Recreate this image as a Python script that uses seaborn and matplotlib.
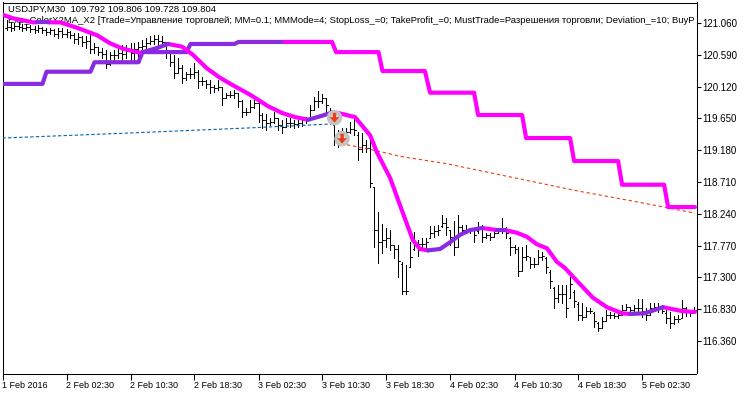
import pandas as pd
import seaborn as sns
import matplotlib.pyplot as plt
from matplotlib.path import Path

# Bars 1..173 (M30), prices
highs = [121.10, 121.07, 121.06, 121.07, 121.05, 121.05, 121.03, 121.02, 121.03, 121.00,
         120.99, 120.99, 120.97, 120.99, 120.99, 120.97, 120.94, 120.91, 120.91, 120.87,
         120.87, 120.91, 120.76, 120.71, 120.69, 120.66, 120.63, 120.66, 120.71, 120.73,
         120.73, 120.76, 120.76, 120.78, 120.81, 120.84, 120.87, 120.88, 120.88, 120.87,
         120.78, 120.62, 120.59, 120.54, 120.44, 120.34, 120.39, 120.47, 120.37, 120.26,
         120.22, 120.22, 120.14, 120.22, 120.11, 120.03, 120.05, 120.07, 119.97, 119.92,
         119.80, 119.92, 119.95, 119.85, 119.73, 119.72, 119.66, 119.74, 119.66, 119.63,
         119.66, 119.66, 119.63, 119.63, 119.67, 119.67, 119.85, 119.97, 120.05, 120.01,
         119.95, 119.80, 119.58, 119.48, 119.51, 119.51, 119.60, 119.67, 119.45, 119.43,
         119.33, 119.43, 118.64, 118.27, 118.09, 118.03, 118.00, 117.78, 117.78, 117.53,
         117.48, 117.82, 117.97, 117.85, 117.88, 117.88, 118.06, 118.06, 118.07, 118.22,
         118.18, 118.00, 118.13, 118.22, 118.07, 118.07, 118.03, 118.03, 118.12, 118.07,
         117.96, 117.96, 118.03, 118.03, 118.18, 118.04, 117.90, 117.78, 117.75, 117.75,
         117.78, 117.60, 117.59, 117.70, 117.67, 117.60, 117.41, 117.16, 117.19, 117.19,
         117.19, 117.31, 117.11, 116.94, 116.92, 116.86, 116.85, 116.79, 116.64, 116.71,
         116.82, 116.79, 116.77, 116.79, 116.89, 116.91, 116.86, 116.89, 116.98, 116.98,
         116.85, 116.92, 116.92, 116.92, 116.85, 116.82, 116.79, 116.73, 116.74, 116.97,
         116.86, 116.82, 116.86]
lows = [120.96, 120.94, 120.96, 120.97, 120.94, 120.96, 120.93, 120.91, 120.93, 120.91,
        120.88, 120.90, 120.87, 120.84, 120.85, 120.85, 120.84, 120.76, 120.75, 120.72,
        120.69, 120.62, 120.62, 120.59, 120.54, 120.39, 120.44, 120.51, 120.54, 120.51,
        120.54, 120.51, 120.51, 120.56, 120.62, 120.69, 120.75, 120.75, 120.73, 120.71,
        120.54, 120.42, 120.25, 120.34, 120.17, 120.22, 120.25, 120.25, 120.10, 120.14,
        120.10, 120.03, 120.04, 120.07, 119.85, 119.95, 119.97, 119.95, 119.82, 119.67,
        119.70, 119.76, 119.80, 119.60, 119.51, 119.48, 119.55, 119.58, 119.48, 119.43,
        119.52, 119.52, 119.51, 119.52, 119.54, 119.58, 119.66, 119.80, 119.82, 119.88,
        119.74, 119.67, 119.26, 119.23, 119.33, 119.40, 119.43, 119.40, 119.04, 119.15,
        119.15, 118.64, 117.75, 117.51, 117.66, 117.75, 117.70, 117.59, 117.31, 117.05,
        117.05, 117.48, 117.70, 117.62, 117.73, 117.75, 117.88, 117.90, 117.93, 118.04,
        117.93, 117.78, 117.63, 117.97, 117.93, 117.96, 117.96, 117.82, 117.96, 117.82,
        117.88, 117.85, 117.90, 117.97, 117.96, 117.88, 117.63, 117.66, 117.32, 117.53,
        117.56, 117.44, 117.45, 117.51, 117.56, 117.36, 117.14, 116.85, 116.94, 116.92,
        116.71, 117.11, 116.86, 116.67, 116.67, 116.74, 116.77, 116.57, 116.51, 116.57,
        116.67, 116.70, 116.70, 116.70, 116.74, 116.82, 116.77, 116.79, 116.77, 116.71,
        116.67, 116.77, 116.82, 116.79, 116.77, 116.63, 116.55, 116.61, 116.64, 116.77,
        116.73, 116.73, 116.77]
closes = [121.00, 120.98, 121.02, 121.00, 120.98, 121.00, 120.97, 120.95, 120.98, 120.95,
          120.92, 120.95, 120.90, 120.94, 120.90, 120.92, 120.88, 120.82, 120.85, 120.78,
          120.80, 120.68, 120.70, 120.63, 120.60, 120.46, 120.58, 120.58, 120.62, 120.60,
          120.65, 120.62, 120.68, 120.70, 120.72, 120.76, 120.80, 120.82, 120.80, 120.78,
          120.62, 120.48, 120.32, 120.40, 120.24, 120.30, 120.30, 120.33, 120.20, 120.20,
          120.16, 120.12, 120.10, 120.12, 119.95, 120.00, 120.00, 120.02, 119.90, 119.75,
          119.75, 119.82, 119.88, 119.70, 119.62, 119.58, 119.60, 119.65, 119.55, 119.52,
          119.58, 119.58, 119.56, 119.58, 119.62, 119.64, 119.78, 119.90, 119.90, 119.95,
          119.85, 119.72, 119.38, 119.32, 119.42, 119.45, 119.50, 119.48, 119.20, 119.25,
          119.22, 118.70, 118.00, 117.82, 117.85, 117.88, 117.78, 117.72, 117.55, 117.10,
          117.10, 117.60, 117.80, 117.80, 117.80, 117.82, 117.95, 117.98, 118.00, 118.10,
          118.05, 117.90, 117.75, 118.05, 118.00, 118.00, 118.00, 117.92, 118.03, 117.90,
          117.92, 117.90, 117.95, 118.00, 118.00, 117.95, 117.75, 117.72, 117.40, 117.60,
          117.62, 117.50, 117.50, 117.60, 117.62, 117.45, 117.25, 117.00, 117.05, 117.05,
          116.85, 117.20, 116.95, 116.75, 116.72, 116.80, 116.80, 116.65, 116.55, 116.65,
          116.75, 116.75, 116.73, 116.75, 116.82, 116.86, 116.82, 116.85, 116.85, 116.80,
          116.75, 116.85, 116.87, 116.85, 116.80, 116.70, 116.62, 116.68, 116.68, 116.85,
          116.80, 116.78, 116.82]
opens = [120.98, 121.00, 120.98, 121.02, 121.00, 120.98, 121.00, 120.97, 120.95, 120.98,
         120.95, 120.92, 120.95, 120.90, 120.94, 120.90, 120.92, 120.88, 120.82, 120.85,
         120.78, 120.80, 120.68, 120.70, 120.63, 120.60, 120.46, 120.58, 120.58, 120.62,
         120.60, 120.65, 120.62, 120.68, 120.70, 120.72, 120.76, 120.80, 120.82, 120.80,
         120.78, 120.62, 120.48, 120.32, 120.40, 120.24, 120.30, 120.30, 120.33, 120.20,
         120.20, 120.16, 120.12, 120.10, 120.12, 119.95, 120.00, 120.00, 120.02, 119.90,
         119.75, 119.75, 119.82, 119.88, 119.70, 119.62, 119.58, 119.60, 119.65, 119.55,
         119.52, 119.58, 119.58, 119.56, 119.58, 119.62, 119.64, 119.78, 119.90, 119.90,
         119.95, 119.72, 119.55, 119.38, 119.32, 119.42, 119.45, 119.50, 119.40, 119.20,
         119.25, 119.22, 118.64, 118.00, 117.82, 117.85, 117.88, 117.78, 117.72, 117.50,
         117.10, 117.45, 117.72, 117.80, 117.80, 117.80, 117.88, 117.95, 117.98, 118.06,
         118.10, 118.00, 117.90, 117.75, 118.05, 118.00, 118.00, 118.00, 117.98, 118.03,
         117.90, 117.92, 117.90, 117.95, 118.00, 118.00, 117.88, 117.75, 117.72, 117.40,
         117.60, 117.60, 117.50, 117.50, 117.60, 117.58, 117.38, 117.14, 117.00, 117.05,
         117.05, 117.00, 117.08, 116.90, 116.75, 116.72, 116.80, 116.78, 116.62, 116.55,
         116.65, 116.75, 116.75, 116.73, 116.75, 116.82, 116.86, 116.82, 116.85, 116.85,
         116.80, 116.75, 116.85, 116.87, 116.85, 116.78, 116.70, 116.62, 116.68, 116.70,
         116.85, 116.80, 116.78]

# Smoothed line, seg changes colour (even magenta, odd violet)
ma_seg = [0, 0, 0, 0,
          1, 1,
          2, 2, 2, 2, 2, 2, 2, 2,
          3, 3, 3,
          4, 4, 4, 4, 4, 4, 4, 4, 4, 4, 4,
          5, 5, 5,
          6, 6, 6, 6, 6, 6, 6, 6, 6, 6,
          7, 7, 7, 7, 7, 7,
          8, 8,
          9, 9,
          10, 10, 10, 10, 10, 10, 10, 10, 10, 10, 10, 10,
          11, 11, 11,
          12, 12, 12]
ma_bar = [0.1, 2.6, 7.6, 8.6,
          8.6, 11.4,
          11.4, 14.4, 18.6, 23.6, 26.9, 30.1, 34.4, 35.1,
          35.1, 38.6, 41.4,
          41.4, 44.9, 47.6, 51.1, 54.4, 57.6, 61.9, 66.4, 69.9, 73.1, 76.4,
          76.4, 79.9, 82.6,
          82.6, 83.9, 88.1, 91.9, 93.6, 96.9, 100.1, 102.6, 104.4, 106.4,
          106.4, 109.4, 111.9, 114.4, 116.9, 119.9,
          119.9, 123.6,
          123.6, 125.6,
          125.6, 128.6, 131.1, 133.6, 136.1, 138.6, 140.6, 143.9, 147.6, 151.1, 154.9, 156.9,
          156.9, 160.6, 165.1,
          165.1, 170.1, 173.1]
ma_price = [121.18, 121.13, 121.07, 121.07,
            121.07, 121.07,
            121.07, 121.07, 120.99, 120.88, 120.76, 120.68, 120.62, 120.63,
            120.63, 120.69, 120.75,
            120.75, 120.71, 120.59, 120.39, 120.25, 120.14, 120.00, 119.83, 119.73, 119.67, 119.63,
            119.63, 119.69, 119.74,
            119.74, 119.73, 119.67, 119.40, 119.15, 118.77, 118.25, 117.85, 117.72, 117.70,
            117.70, 117.72, 117.82, 117.93, 118.00, 118.03,
            118.03, 118.00,
            118.00, 118.00,
            118.00, 117.96, 117.90, 117.79, 117.73, 117.53, 117.44, 117.23, 117.00, 116.86, 116.77, 116.76,
            116.76, 116.77, 116.86,
            116.86, 116.80, 116.79]

# Stepped line (0 violet, 1 magenta)
step_seg = [0] * 12 + [1] * 18
step_bar = [0, 10, 11, 22, 23, 34, 35, 46, 47, 58, 59, 70.6,
            70.6, 82.4, 83.4, 94, 95, 105.6, 106.9, 117.9, 118.9, 129.9, 130.9, 141.9,
            142.9, 153.9, 154.9, 165.4, 166.4, 173.1]
step_price = [120.16, 120.16, 120.34, 120.34, 120.48, 120.48, 120.63, 120.63, 120.75, 120.75, 120.78, 120.78,
              120.78, 120.78, 120.63, 120.63, 120.35, 120.35, 120.03, 120.03, 119.70, 119.70, 119.36, 119.36,
              119.02, 119.02, 118.67, 118.67, 118.34, 118.34]

# Thin dashed lines
blue_bar = [0, 30, 61.9, 83]
blue_price = [119.36, 119.43, 119.51, 119.57]
red_bar = [86.1, 92.9, 99.4, 111.1, 143.6, 160.1, 173.1]
red_price = [119.26, 119.18, 119.09, 118.98, 118.58, 118.40, 118.25]

# Sell signals
signal_bar = [83, 84.9]
signal_price = [119.66, 119.35]

y_ticks = [121.06, 120.59, 120.12, 119.65, 119.18, 118.71, 118.24, 117.77, 117.30, 116.83, 116.36]
x_ticks = [0, 16, 32, 48, 64, 80, 96, 112, 128, 144, 160]
x_labels = ['1 Feb 2016', '2 Feb 02:30', '2 Feb 10:30', '2 Feb 18:30', '3 Feb 02:30', '3 Feb 10:30',
            '3 Feb 18:30', '4 Feb 02:30', '4 Feb 10:30', '4 Feb 18:30', '5 Feb 02:30']

header = 'USDJPY,M30  109.792 109.806 109.728 109.804'
params = ('Exp_ColorX2MA_X2 [Trade=Управление торговлей; MM=0.1; MMMode=4; StopLoss_=0; TakeProfit_=0; '
          'MustTrade=Разрешения торговли; Deviation_=10; BuyP')

sns.set_theme(style="white")
plt.rcParams['font.family'] = ['Liberation Sans', 'DejaVu Sans']
plt.rcParams['axes.linewidth'] = 0.75

fig = plt.figure(figsize=(7.5, 3.94), dpi=100)
ax = fig.add_axes([2.5 / 750, 20.5 / 394, 694 / 750, 371 / 394])

# each bar is one path: open tick, high-low, close tick
rows = []
for n, (o, h, l, c) in enumerate(zip(opens, highs, lows, closes), start=1):
    for x, y in [(n - 0.4, o), (n, o), (n, h), (n, l), (n, c), (n + 0.4, c)]:
        rows.append({'bar': n, 'x': x, 'price': y})
bars = pd.DataFrame(rows)
sns.lineplot(data=bars, x='x', y='price', units='bar', estimator=None, sort=False,
             color='black', linewidth=0.72, legend=False, ax=ax, zorder=2)

sns.lineplot(x=blue_bar, y=blue_price, color='#0066B3', linewidth=0.8, linestyle=(0, (3, 2)),
             estimator=None, sort=False, ax=ax, zorder=3)
sns.lineplot(x=red_bar, y=red_price, color='#E8401C', linewidth=0.8, linestyle=(0, (3, 2.5)),
             estimator=None, sort=False, ax=ax, zorder=3)

step = pd.DataFrame({'seg': step_seg, 'bar': step_bar, 'price': step_price})
sns.lineplot(data=step, x='bar', y='price', units='seg', hue='seg', palette={0: '#8A2BE2', 1: '#FF00FF'},
             estimator=None, sort=False, linewidth=3.0, legend=False, ax=ax, zorder=4)

ma = pd.DataFrame({'seg': ma_seg, 'bar': ma_bar, 'price': ma_price})
ma['colour'] = ma['seg'] % 2
sns.lineplot(data=ma, x='bar', y='price', units='seg', hue='colour', palette={0: '#FF00FF', 1: '#8A2BE2'},
             estimator=None, sort=False, linewidth=3.0, legend=False, ax=ax, zorder=5)

# signal arrows, grey ring with a red arrow inside
arrow = Path([(-0.35, 1), (0.35, 1), (0.35, 0.1), (1, 0.1), (0, -1), (-1, 0.1), (-0.35, 0.1), (-0.35, 1)], closed=True)
sns.scatterplot(x=signal_bar, y=signal_price, s=125, color='#C4C4C4', edgecolor='none', ax=ax, zorder=6)
sns.scatterplot(x=signal_bar, y=signal_price, s=30, color='#DEDEDE', edgecolor='none', ax=ax, zorder=7)
sns.scatterplot(x=signal_bar, y=signal_price, s=50, marker=arrow, color='#E8401C', edgecolor='none', ax=ax, zorder=8)

ax.set_xlim(0, 173.5)
ax.set_ylim(115.88, 121.363)
ax.set_xlabel('')
ax.set_ylabel('')
ax.set_xticks(x_ticks)
ax.set_xticklabels(x_labels, ha='left', fontsize=6.5, color='black')
ax.set_yticks(y_ticks)
ax.set_yticklabels([f'{v:.3f}' for v in y_ticks], fontsize=7, color='black')
ax.yaxis.tick_right()
ax.tick_params(axis='x', bottom=True, length=4, width=0.75, pad=1.5, color='black')
ax.tick_params(axis='y', right=True, left=False, length=3, width=0.75, pad=1.5, color='black')
for side in ax.spines.values():
    side.set_color('black')
    side.set_visible(True)

ax.text(5 / 694, 0.9825, header, transform=ax.transAxes, fontsize=6.8, va='center', color='black', zorder=1)
ax.text(5 / 694, 0.951, params, transform=ax.transAxes, fontsize=6.8, va='center', color='black', zorder=1)

fig.savefig('out.png', dpi=100)
